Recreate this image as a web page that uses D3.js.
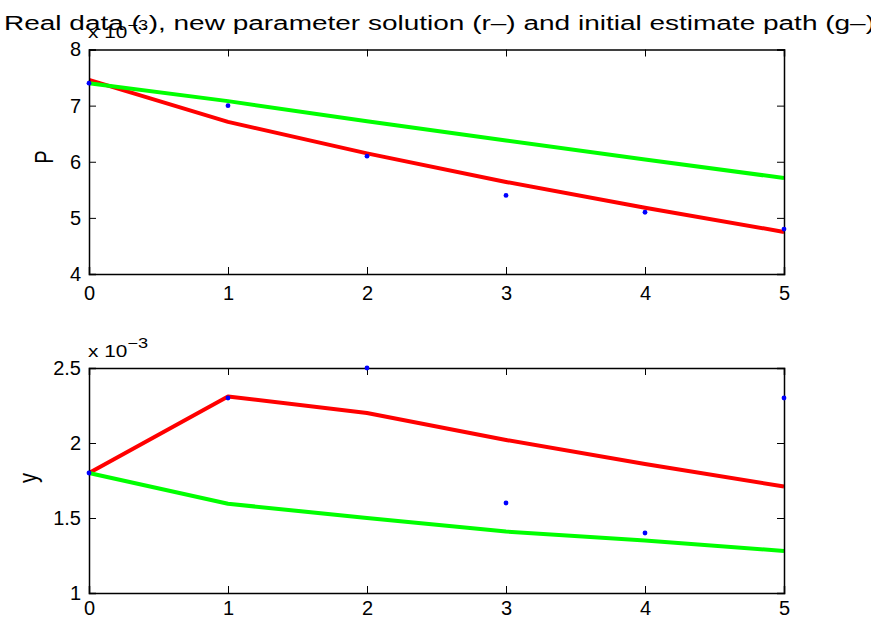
<!DOCTYPE html>
<html>
<head>
<meta charset="utf-8">
<script src="https://cdn.jsdelivr.net/npm/d3@7"></script>
<style>
  body { margin: 0; background: #fff; overflow: hidden; }
  svg { display: block; font-family: "Liberation Sans", Arial, sans-serif; }
</style>
</head>
<body>
<div id="chart"></div>
<script>
const [WIDTH, HEIGHT] = [871, 622];

// time steps
const steps = [0, 1, 2, 3, 4, 5];

// top panel (P, x 10^-3)
const pReal = [7.4, 7.0, 6.1, 5.4, 5.1, 4.8];
const pNew = [7.46, 6.71, 6.15, 5.64, 5.18, 4.75];
const pInit = [7.4, 7.08, 6.72, 6.38, 6.04, 5.71];

// bottom panel (y, x 10^-3)
const yReal = [1.8, 2.3, 2.5, 1.6, 1.4, 2.3];
const yNew = [1.8, 2.31, 2.2, 2.02, 1.86, 1.71];
const yInit = [1.8, 1.595, 1.5, 1.41, 1.35, 1.28];

const xTicks = [0, 1, 2, 3, 4, 5];
const pTicks = [4, 5, 6, 7, 8];
const yTicks = [1, 1.5, 2, 2.5];

const TITLE = 'Real data (.), new parameter solution (r\u2013) and initial estimate path (g\u2013)';

const PANELS = [
    { top: 49.5, bottom: 274, domain: [4, 8], ticks: pTicks, label: 'P',
      labelPos: [53, 157], xPad: 12, real: pReal, fresh: pNew, init: pInit },
    { top: 368, bottom: 593, domain: [1, 2.5], ticks: yTicks, label: 'y',
      labelPos: [37, 478], xPad: 8, real: yReal, fresh: yNew, init: yInit },
];

const LEFT = 89, RIGHT = 784;
const TICK_LEN = 7;
const STRETCH = 1.3; // text in the reference is a bit wider than it is tall

const svg = d3.select('#chart').append('svg')
    .attr('width', WIDTH)
    .attr('height', HEIGHT);

const x = d3.scaleLinear().domain([0, 5]).range([LEFT, RIGHT]);

function drawPanel(p) {
    const y = d3.scaleLinear().domain(p.domain).range([p.bottom, p.top]);
    const g = svg.append('g');

    const line = d3.line().x((d, i) => x(steps[i])).y(d => y(d));

    g.append('path')
        .datum(p.fresh)
        .attr('d', line)
        .attr('fill', 'none')
        .attr('stroke', '#ff0000')
        .attr('stroke-width', 4)
        .attr('stroke-linejoin', 'round');

    g.append('path')
        .datum(p.init)
        .attr('d', line)
        .attr('fill', 'none')
        .attr('stroke', '#00ff00')
        .attr('stroke-width', 4)
        .attr('stroke-linejoin', 'round');

    // axes box with inner ticks (matlab style)
    g.append('g')
        .attr('transform', `translate(0,${p.bottom})`)
        .call(d3.axisBottom(x).tickValues(xTicks).tickSize(-TICK_LEN).tickPadding(p.xPad).tickFormat(d3.format('d')));
    g.append('g')
        .attr('transform', `translate(0,${p.top})`)
        .call(d3.axisTop(x).tickValues(xTicks).tickSize(-TICK_LEN).tickFormat(''));
    g.append('g')
        .attr('transform', `translate(${LEFT},0)`)
        .call(d3.axisLeft(y).tickValues(p.ticks).tickSize(-TICK_LEN).tickPadding(8).tickFormat(d => d));
    g.append('g')
        .attr('transform', `translate(${RIGHT},0)`)
        .call(d3.axisRight(y).tickValues(p.ticks).tickSize(-TICK_LEN).tickFormat(''));

    g.selectAll('.domain').attr('stroke', '#000').attr('stroke-width', 1.5);
    g.selectAll('.tick line').attr('stroke', '#000');
    g.selectAll('.tick text')
        .attr('font-size', 20)
        .attr('fill', '#000')
        .attr('font-family', '"Liberation Sans", Arial, sans-serif');

    g.selectAll('.dot')
        .data(p.real)
        .enter()
        .append('circle')
        .attr('class', 'dot')
        .attr('cx', (d, i) => x(steps[i]))
        .attr('cy', d => y(d))
        .attr('r', 2.4)
        .attr('fill', '#0000ff');

    // exponent label
    const ex = g.append('text')
        .attr('transform', `translate(88,${p.top - 11.5}) scale(${STRETCH},1)`)
        .attr('font-size', 16)
        .attr('fill', '#000');
    ex.append('tspan').text('x 10');
    ex.append('tspan').attr('dy', -8.5).attr('font-size', 14).text('\u22123');

    g.append('text')
        .attr('transform', `translate(${p.labelPos[0]},${p.labelPos[1]}) scale(${STRETCH},1) rotate(-90)`)
        .attr('text-anchor', 'middle')
        .attr('font-size', 20)
        .attr('fill', '#000')
        .text(p.label);
}

PANELS.forEach(drawPanel);

// title runs past the right edge in the reference
svg.append('text')
    .attr('x', 4)
    .attr('y', 29.5)
    .attr('font-size', 20)
    .attr('textLength', 871)
    .attr('lengthAdjust', 'spacingAndGlyphs')
    .attr('fill', '#000')
    .text(TITLE);
</script>
</body>
</html>
